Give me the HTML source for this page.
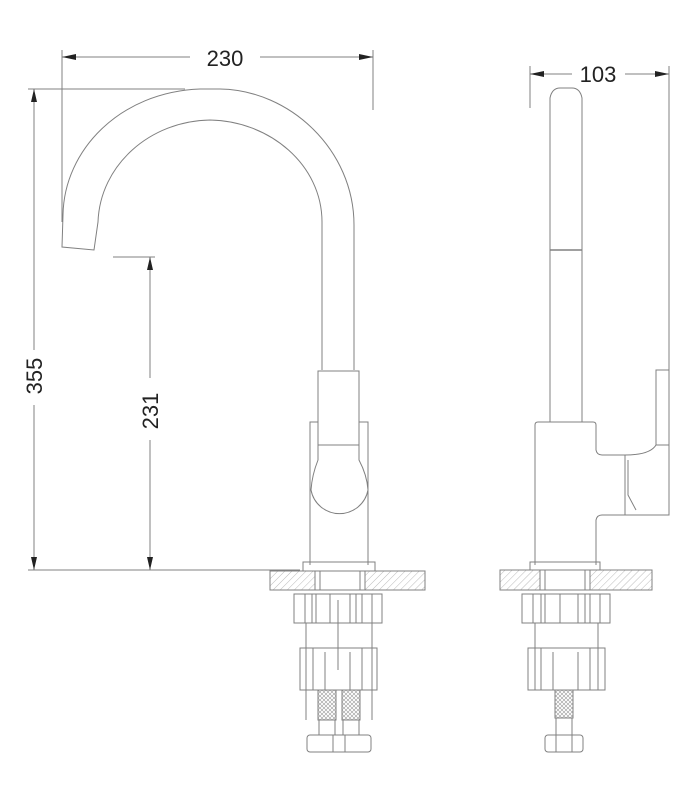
<!DOCTYPE html>
<html><head><style>html,body{margin:0;padding:0;background:#fff}svg{display:block}text{font-family:"Liberation Sans",sans-serif;fill:#222}</style></head>
<body>
<svg width="695" height="799" viewBox="0 0 695 799" xmlns="http://www.w3.org/2000/svg">
<defs>
<pattern id="h" width="5" height="5" patternUnits="userSpaceOnUse" patternTransform="rotate(45)"><line x1="0" y1="0" x2="0" y2="5" stroke="#aaa" stroke-width="0.8"/></pattern>
<pattern id="m" width="4" height="4" patternUnits="userSpaceOnUse"><path d="M0 0L4 4M4 0L0 4" stroke="#999" stroke-width="0.6"/></pattern>
</defs>
<g fill="none" stroke="#808080" stroke-width="1">
<line x1="62" y1="50" x2="62" y2="222"/><line x1="373" y1="50" x2="373" y2="110"/>
<line x1="62" y1="57" x2="190" y2="57"/><line x1="260" y1="57" x2="373" y2="57"/>
<line x1="28" y1="89" x2="185" y2="89"/><line x1="28" y1="570" x2="300" y2="570"/>
<line x1="34" y1="89" x2="34" y2="350"/><line x1="34" y1="405" x2="34" y2="570"/>
<line x1="113" y1="257" x2="155" y2="257"/>
<line x1="150" y1="257" x2="150" y2="378"/><line x1="150" y1="440" x2="150" y2="570"/>
<line x1="530" y1="66" x2="530" y2="108"/><line x1="669" y1="66" x2="669" y2="370"/>
<line x1="530" y1="74" x2="572" y2="74"/><line x1="625" y1="74" x2="669" y2="74"/>

<path d="M354 370 L354 225 C354 150 290 90 220 89 L200 89 C120 92 64 150 63 215 L62 247 L94 250 L98 222 C100 165 150 121 210 120 C270 121 322 165 322 222 L322 370"/>
<rect x="318" y="371" width="41" height="74"/>
<path d="M318 445 L318 460 Q312 475 311 490 A29 29 0 0 0 368 490 Q367 475 359 460 L359 445"/>
<path d="M310 565 L310 422 L318 422 M359 422 L368 422 L368 565"/>
<rect x="303" y="562" width="72" height="9"/>
<rect x="270" y="571" width="155" height="19" fill="url(#h)"/>
<rect x="315" y="571" width="50" height="19" fill="#fff"/>
<line x1="320" y1="571" x2="320" y2="590"/><line x1="360" y1="571" x2="360" y2="590"/>
<rect x="294" y="594" width="88" height="29"/>
<path d="M305 594v29M312 594v29M316 594v29M330 594v29M350 594v29M356 594v29M362 594v29M372 594v29"/>
<path d="M306 623 L306 720 M338 600 L338 670 M372 623 L372 720"/>
<rect x="300" y="648" width="77" height="42"/>
<path d="M313 648v42M325 652v38M350 652v38M362 648v42"/>
<rect x="318" y="690" width="18" height="30" fill="url(#m)"/>
<rect x="342" y="690" width="18" height="30" fill="url(#m)"/>
<rect x="319" y="720" width="16" height="15"/><rect x="343" y="720" width="16" height="15"/>
<rect x="307" y="735" width="64" height="17" rx="3"/>
<path d="M333 735v17M345 735v17"/>

<path d="M550 422 L550 98 Q552 88 560 88 L572 88 Q580 88 582 98 L582 422"/>
<line x1="550" y1="250" x2="582" y2="250" stroke-width="1.5"/>
<path d="M535 565 L535 425 Q535 422 538 422 L593 422 Q596 422 596 425 L596 450 Q597 455 602 455 L625 455 L625 515 L602 515 Q597 515 596 520 L596 565"/>
<path d="M625 455 Q650 455 656 445 L669 445 L669 515 L625 515"/>
<rect x="656" y="370" width="13" height="75"/>
<path d="M628 460 L628 495 L636 510"/>
<rect x="530" y="562" width="70" height="8"/>
<rect x="500" y="570" width="152" height="20" fill="url(#h)"/>
<rect x="540" y="570" width="50" height="20" fill="#fff"/>
<line x1="545" y1="570" x2="545" y2="590"/><line x1="585" y1="570" x2="585" y2="590"/>
<rect x="522" y="594" width="88" height="29"/>
<path d="M533 594v29M541 594v29M545 594v29M560 594v29M578 594v29M585 594v29M590 594v29M600 594v29"/>
<path d="M535 623 L535 690 M598 623 L598 690"/>
<rect x="528" y="648" width="77" height="42"/>
<path d="M541 648v42M553 652v38M578 652v38M590 648v42"/>
<rect x="555" y="690" width="18" height="28" fill="url(#m)"/>
<rect x="556" y="718" width="16" height="17"/>
<rect x="545" y="735" width="38" height="17" rx="3"/>
<path d="M556 735v17M572 735v17"/>
</g>
<g fill="#222">
<path d="M62 57 l14 -3 v6z"/><path d="M373 57 l-14 -3 v6z"/>
<path d="M34 89 l-3 13 h6z"/><path d="M34 570 l-3 -13 h6z"/>
<path d="M150 257 l-3 13 h6z"/><path d="M150 570 l-3 -13 h6z"/>
<path d="M530 74 l14 -3 v6z"/><path d="M669 74 l-14 -3 v6z"/>
</g>
<text x="225" y="66" font-size="22" text-anchor="middle">230</text>
<text x="598" y="82" font-size="22" text-anchor="middle">103</text>
<text transform="translate(42,376) rotate(-90)" font-size="22" text-anchor="middle">355</text>
<text transform="translate(158,411) rotate(-90)" font-size="22" text-anchor="middle">231</text>
</svg>
</body></html>
